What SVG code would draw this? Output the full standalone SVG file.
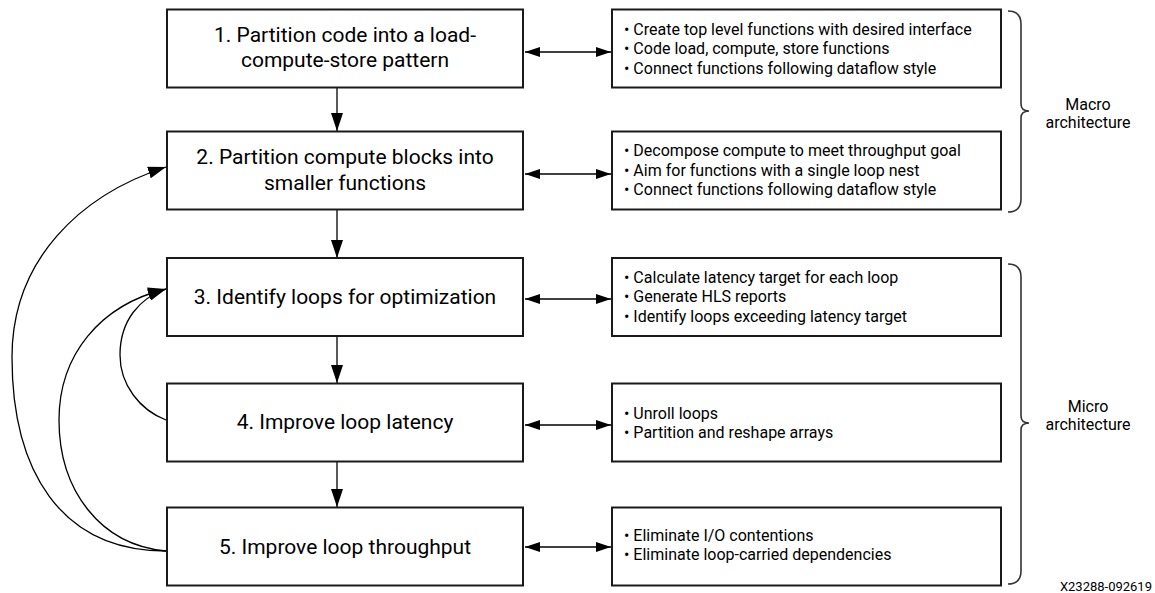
<svg xmlns="http://www.w3.org/2000/svg" width="1155" height="593" viewBox="0 0 1155 593">
<style>
.box{fill:#fff;stroke:#1a1a1a;stroke-width:2}
.t{font-family:Roboto,"Liberation Sans",sans-serif;font-size:21px;fill:#000;text-anchor:middle}
.b{font-family:Roboto,"Liberation Sans",sans-serif;font-size:16px;fill:#000}
.lbl{font-family:Roboto,"Liberation Sans",sans-serif;font-size:16px;fill:#000;text-anchor:middle}
.c{fill:none;stroke:#000;stroke-width:1.3}
.br{fill:none;stroke:#333;stroke-width:1.6}
</style>
<defs>
<marker id="ah" markerUnits="userSpaceOnUse" markerWidth="18" markerHeight="12" viewBox="0 0 18 12" refX="18" refY="6" orient="auto-start-reverse">
<path d="M0,0 L18,6 L0,12 Z" fill="#000"/>
</marker>
<marker id="ah2" markerUnits="userSpaceOnUse" markerWidth="15" markerHeight="10" viewBox="0 0 15 10" refX="15" refY="5" orient="auto-start-reverse">
<path d="M0,0 L15,5 L0,10 Z" fill="#000"/>
</marker>
</defs>

<g id="connectors">
<line class="c" x1="337" y1="88" x2="337" y2="131" marker-end="url(#ah)"/>
<line class="c" x1="337" y1="210" x2="337" y2="258" marker-end="url(#ah)"/>
<line class="c" x1="337" y1="336" x2="337" y2="383" marker-end="url(#ah)"/>
<line class="c" x1="337" y1="461" x2="337" y2="507" marker-end="url(#ah)"/>
<line class="c" x1="525" y1="52" x2="611" y2="52" marker-start="url(#ah2)" marker-end="url(#ah2)"/>
<line class="c" x1="525" y1="174" x2="611" y2="174" marker-start="url(#ah2)" marker-end="url(#ah2)"/>
<line class="c" x1="525" y1="299" x2="611" y2="299" marker-start="url(#ah2)" marker-end="url(#ah2)"/>
<line class="c" x1="525" y1="425" x2="611" y2="425" marker-start="url(#ah2)" marker-end="url(#ah2)"/>
<line class="c" x1="525" y1="547" x2="611" y2="547" marker-start="url(#ah2)" marker-end="url(#ah2)"/>
<path class="c" d="M166,420 C140,410 120,385 120,355 C120,320 140,298 166,289" marker-end="url(#ah)"/>
<path class="c" d="M166,551 C100,545 59,490 59,420 C59,355 100,305 166,289" marker-end="url(#ah)"/>
<path class="c" d="M166,551 C60,551 12,470 12,357 C12,260 80,195 166,167" marker-end="url(#ah)"/>
</g>

<g id="step1">
<rect class="box" x="167" y="9.5" width="356" height="78"/>
<text class="t" x="345" y="42">1. Partition code into a load-</text>
<text class="t" x="345" y="67">compute-store pattern</text>
</g>
<g id="step2">
<rect class="box" x="167" y="131.5" width="356" height="78"/>
<text class="t" x="345" y="163.5">2. Partition compute blocks into</text>
<text class="t" x="345" y="189.5">smaller functions</text>
</g>
<g id="step3">
<rect class="box" x="167" y="258" width="356" height="78"/>
<text class="t" x="345" y="304">3. Identify loops for optimization</text>
</g>
<g id="step4">
<rect class="box" x="167" y="383.5" width="356" height="78"/>
<text class="t" x="345" y="429">4. Improve loop latency</text>
</g>
<g id="step5">
<rect class="box" x="167" y="507.5" width="356" height="78"/>
<text class="t" x="345" y="554">5. Improve loop throughput</text>
</g>

<g id="detail1">
<rect class="box" x="612" y="9.5" width="389" height="78"/>
<text class="b" x="624" y="34.5">• Create top level functions with desired interface</text>
<text class="b" x="624" y="54">• Code load, compute, store functions</text>
<text class="b" x="624" y="73.5">• Connect functions following dataflow style</text>
</g>
<g id="detail2">
<rect class="box" x="612" y="131.5" width="389" height="78"/>
<text class="b" x="624" y="156">• Decompose compute to meet throughput goal</text>
<text class="b" x="624" y="175.5">• Aim for functions with a single loop nest</text>
<text class="b" x="624" y="195">• Connect functions following dataflow style</text>
</g>
<g id="detail3">
<rect class="box" x="612" y="258" width="389" height="78"/>
<text class="b" x="624" y="283">• Calculate latency target for each loop</text>
<text class="b" x="624" y="302">• Generate HLS reports</text>
<text class="b" x="624" y="321.5">• Identify loops exceeding latency target</text>
</g>
<g id="detail4">
<rect class="box" x="612" y="383.5" width="389" height="78"/>
<text class="b" x="624" y="418.5">• Unroll loops</text>
<text class="b" x="624" y="438">• Partition and reshape arrays</text>
</g>
<g id="detail5">
<rect class="box" x="612" y="507.5" width="389" height="78"/>
<text class="b" x="624" y="541">• Eliminate I/O contentions</text>
<text class="b" x="624" y="560">• Eliminate loop-carried dependencies</text>
</g>

<g id="macro">
<path class="br" d="M1008,11 Q1021,11 1021,24 L1021,104 Q1021,111 1029,111 Q1021,111 1021,118 L1021,199 Q1021,212 1008,212"/>
<text class="lbl" x="1088" y="110">Macro</text>
<text class="lbl" x="1088" y="128">architecture</text>
</g>
<g id="micro">
<path class="br" d="M1008,264 Q1021,264 1021,277 L1021,416 Q1021,423 1029,423 Q1021,423 1021,430 L1021,571 Q1021,584 1008,584"/>
<text class="lbl" x="1088" y="412">Micro</text>
<text class="lbl" x="1088" y="430">architecture</text>
</g>
<text x="1152" y="591" font-family="Roboto, 'Liberation Sans', sans-serif" font-size="13" text-anchor="end" fill="#000">X23288-092619</text>
</svg>
